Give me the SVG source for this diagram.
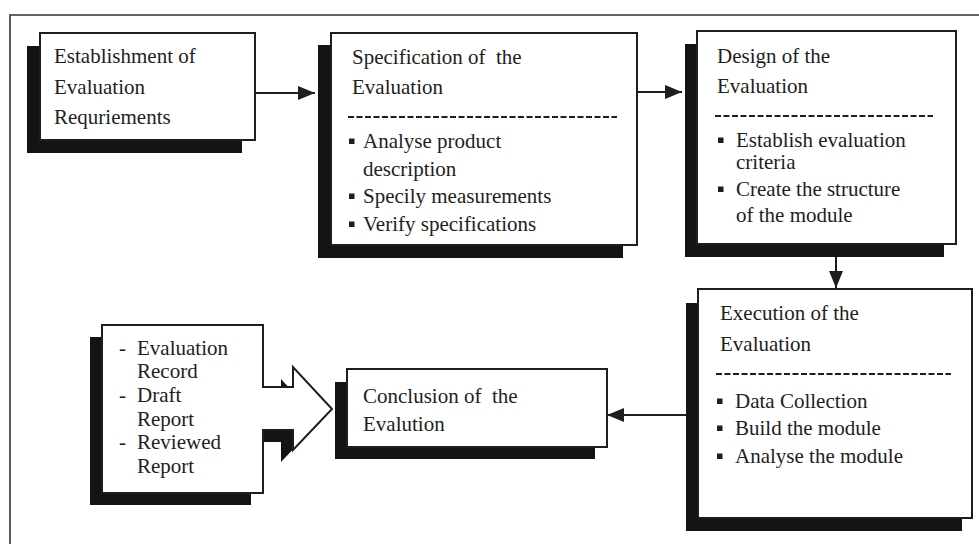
<svg xmlns="http://www.w3.org/2000/svg" width="979" height="544" viewBox="0 0 979 544">
<defs>
<style>
text{font-family:'Liberation Serif','Times New Roman',Times,'Nimbus Roman',serif;font-size:21px;fill:#1e1e1e;white-space:pre}
.box{fill:#fff;stroke:#1e1e1e;stroke-width:2}
.sh{fill:#141414}
.dash{stroke:#1e1e1e;stroke-width:2;stroke-dasharray:6 2.5;fill:none}
.bul{fill:#1e1e1e}
.conn{stroke:#1e1e1e;stroke-width:2;fill:none;marker-end:url(#ah)}
.frame{stroke:#333;stroke-width:1.6;fill:none}
</style>
<marker id="ah" viewBox="0 0 17 14" refX="17" refY="7" markerWidth="17" markerHeight="14" markerUnits="userSpaceOnUse" orient="auto">
<path d="M0,0 L17,7 L0,14 z" fill="#1e1e1e"/>
</marker>
</defs>
<rect width="979" height="544" fill="#fff"/>
<path class="frame" d="M10,544 V15 H979"/>

<g id="connectors">
<line class="conn" x1="255" y1="93" x2="315" y2="93"/>
<line class="conn" x1="637" y1="92" x2="682" y2="92"/>
<line class="conn" x1="836" y1="244" x2="836" y2="288"/>
<line class="conn" x1="687" y1="415" x2="607" y2="415"/>
</g>

<g id="establishment" font-family="Liberation Serif, serif">
<rect class="sh" x="27" y="46" width="215" height="107"/>
<rect class="box" x="40" y="33" width="215" height="107"/>
<text x="54" y="63">Establishment of</text>
<text x="54" y="94">Evaluation</text>
<text x="54" y="124">Requriements</text>
</g>

<g id="specification">
<rect class="sh" x="318" y="45" width="305" height="213"/>
<rect class="box" x="331" y="33" width="306" height="212"/>
<text x="352" y="64">Specification of  the</text>
<text x="352" y="94">Evaluation</text>
<line class="dash" x1="348" y1="117" x2="617" y2="117"/>
<rect class="bul" x="349" y="138.5" width="5.5" height="5.5"/>
<text x="363" y="148">Analyse product</text>
<text x="363" y="176">description</text>
<rect class="bul" x="349" y="193.5" width="5.5" height="5.5"/>
<text x="363" y="203">Specily measurements</text>
<rect class="bul" x="349" y="221.5" width="5.5" height="5.5"/>
<text x="363" y="231">Verify specifications</text>
</g>

<g id="design">
<rect class="sh" x="685" y="44" width="259" height="213"/>
<rect class="box" x="697" y="31" width="259" height="213"/>
<text x="717" y="63">Design of the</text>
<text x="717" y="93">Evaluation</text>
<line class="dash" x1="715" y1="116" x2="933" y2="116"/>
<rect class="bul" x="718" y="137.5" width="5.5" height="5.5"/>
<text x="736" y="147">Establish evaluation</text>
<text x="736" y="169">criteria</text>
<rect class="bul" x="718" y="186.5" width="5.5" height="5.5"/>
<text x="736" y="196">Create the structure</text>
<text x="736" y="222">of the module</text>
</g>

<g id="execution">
<rect class="sh" x="686" y="303" width="276" height="228"/>
<rect class="box" x="698" y="289" width="274" height="229"/>
<text x="720" y="320">Execution of the</text>
<text x="720" y="351">Evaluation</text>
<line class="dash" x1="716" y1="374" x2="951" y2="374"/>
<rect class="bul" x="717" y="398.5" width="5.5" height="5.5"/>
<text x="735" y="408">Data Collection</text>
<rect class="bul" x="717" y="425.5" width="5.5" height="5.5"/>
<text x="735" y="435">Build the module</text>
<rect class="bul" x="717" y="453.5" width="5.5" height="5.5"/>
<text x="735" y="463">Analyse the module</text>
</g>

<g id="conclusion">
<rect class="sh" x="335" y="382" width="260" height="77"/>
<rect class="box" x="347" y="369" width="260" height="78"/>
<text x="363" y="403">Conclusion of  the</text>
<text x="363" y="431">Evalution</text>
</g>

<g id="outputs">
<path class="sh" transform="translate(-12,12)" d="M102,325 H263 V387 H293 V367 L332,409 L293,450 V430 H263 V493 H102 Z"/>
<path class="box" d="M102,325 H263 V387 H293 V367 L332,409 L293,450 V430 H263 V493 H102 Z"/>
<text x="119" y="355">-</text>
<text x="137" y="355">Evaluation</text>
<text x="137" y="378">Record</text>
<text x="119" y="402">-</text>
<text x="137" y="402">Draft</text>
<text x="137" y="426">Report</text>
<text x="119" y="449">-</text>
<text x="137" y="449">Reviewed</text>
<text x="137" y="473">Report</text>
</g>
</svg>
